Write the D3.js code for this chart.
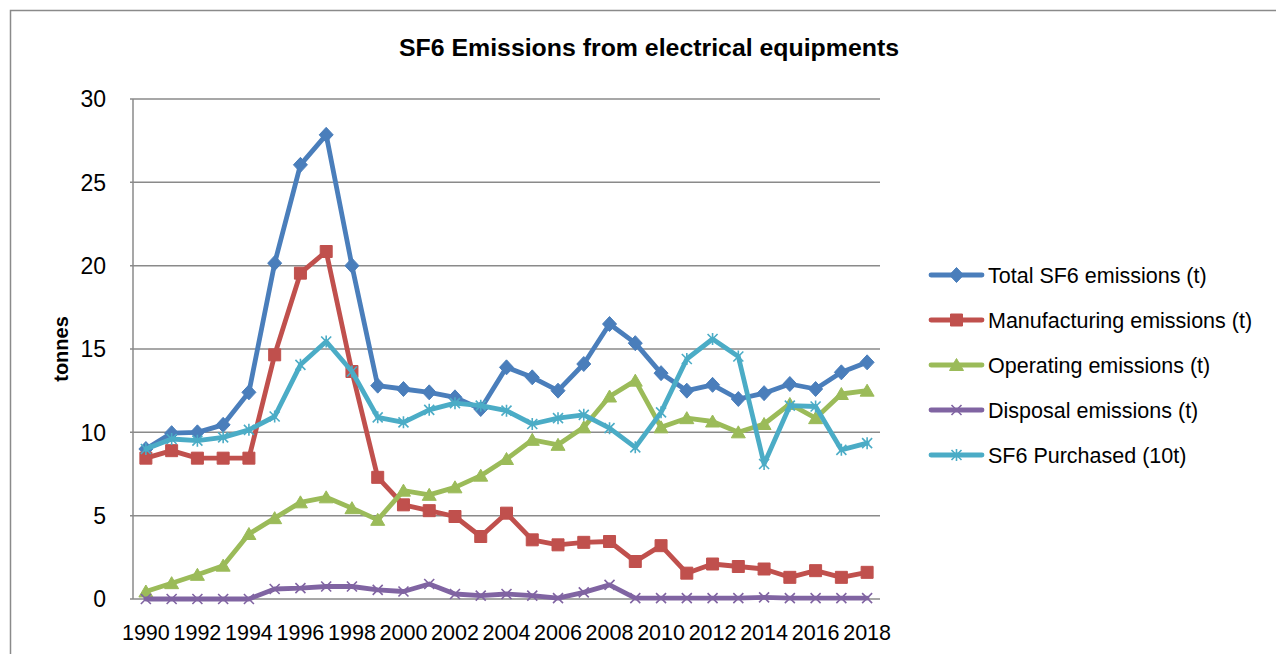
<!DOCTYPE html>
<html>
<head>
<meta charset="utf-8">
<script src="https://cdn.jsdelivr.net/npm/d3@7"></script>
<style>
  html, body { margin: 0; padding: 0; background: #fff; }
  svg { display: block; }
  text { font-family: "Liberation Sans", Arial, sans-serif; fill: #000; }
</style>
</head>
<body>
<svg id="chart" width="1276" height="654"></svg>
<script>
const years = d3.range(1990, 2019);
const tickYears = years.filter(y => (y - 1990) % 2 === 0);
const yTicks = [0, 5, 10, 15, 20, 25, 30];

const totalEmissions = [9.0, 9.95, 10.0, 10.45, 12.4, 20.15, 26.05, 27.85, 20.0, 12.8,
  12.6, 12.4, 12.1, 11.4, 13.9, 13.3, 12.5, 14.1, 16.5, 15.35,
  13.55, 12.5, 12.85, 12.0, 12.35, 12.9, 12.6, 13.6, 14.2];
const manufacturingEmissions = [8.45, 8.9, 8.45, 8.45, 8.45, 14.65, 19.55, 20.85, 13.65, 7.3,
  5.65, 5.3, 4.95, 3.75, 5.15, 3.55, 3.25, 3.4, 3.45, 2.25,
  3.2, 1.55, 2.1, 1.95, 1.8, 1.3, 1.7, 1.3, 1.6];
const operatingEmissions = [0.45, 0.95, 1.45, 2.0, 3.9, 4.85, 5.8, 6.1, 5.45, 4.75,
  6.5, 6.25, 6.7, 7.4, 8.4, 9.55, 9.25, 10.3, 12.15, 13.1,
  10.3, 10.85, 10.65, 10.0, 10.5, 11.7, 10.85, 12.3, 12.5];
const disposalEmissions = [0, 0, 0, 0, 0, 0.6, 0.65, 0.75, 0.75, 0.55,
  0.45, 0.9, 0.3, 0.2, 0.3, 0.2, 0.05, 0.4, 0.85, 0.05,
  0.05, 0.05, 0.05, 0.05, 0.1, 0.05, 0.05, 0.05, 0.05];
const sf6Purchased = [9.0, 9.6, 9.5, 9.7, 10.15, 10.95, 14.05, 15.45, 13.65, 10.9,
  10.6, 11.35, 11.75, 11.6, 11.3, 10.5, 10.85, 11.05, 10.25, 9.1,
  11.2, 14.4, 15.6, 14.55, 8.1, 11.6, 11.55, 8.95, 9.35];

const seriesNames = ["Total SF6 emissions (t)", "Manufacturing emissions (t)",
  "Operating emissions (t)", "Disposal emissions (t)", "SF6 Purchased (10t)"];
const seriesValues = [totalEmissions, manufacturingEmissions, operatingEmissions,
  disposalEmissions, sf6Purchased];
const seriesColors = ["#4A7EBB", "#C0504D", "#9BBB59", "#8064A2", "#4BACC6"];
const seriesMarkers = ["diamond", "square", "triangle", "x", "asterisk"];

const svg = d3.select("#chart");

// outer chart border
svg.append("rect")
  .attr("x", 10.5).attr("y", 10.5)
  .attr("width", 1300).attr("height", 700)
  .attr("fill", "none").attr("stroke", "#8a8a8a").attr("stroke-width", 1.5);

const plot = { left: 133, right: 880, top: 99, bottom: 599 };

const x = d3.scalePoint().domain(years).range([plot.left, plot.right]).padding(0.5);
const y = d3.scaleLinear().domain([0, 30]).range([plot.bottom, plot.top]);

// gridlines
svg.append("g")
  .selectAll("line").data(yTicks).join("line")
  .attr("x1", plot.left - 3).attr("x2", plot.right)
  .attr("y1", d => y(d)).attr("y2", d => y(d))
  .attr("stroke", "#8a8a8a").attr("stroke-width", 1.5);

// y axis line
svg.append("line")
  .attr("x1", plot.left).attr("x2", plot.left)
  .attr("y1", plot.top).attr("y2", plot.bottom)
  .attr("stroke", "#8a8a8a").attr("stroke-width", 1.5);

// y tick labels
svg.append("g")
  .selectAll("text").data(yTicks).join("text")
  .attr("x", 106).attr("y", d => y(d))
  .attr("dy", "0.36em")
  .attr("text-anchor", "end")
  .attr("font-size", 23)
  .text(d => d);

// x tick labels
svg.append("g")
  .selectAll("text").data(tickYears).join("text")
  .attr("x", d => x(d)).attr("y", 640)
  .attr("text-anchor", "middle")
  .attr("font-size", 21.5)
  .text(d => d);

// y axis title
svg.append("text")
  .attr("transform", "translate(68,349) rotate(-90)")
  .attr("text-anchor", "middle")
  .attr("font-size", 20)
  .attr("font-weight", "bold")
  .text("tonnes");

// chart title
svg.append("text")
  .attr("x", 649).attr("y", 56)
  .attr("text-anchor", "middle")
  .attr("font-size", 23)
  .attr("font-weight", "bold")
  .attr("textLength", 500)
  .attr("lengthAdjust", "spacingAndGlyphs")
  .text("SF6 Emissions from electrical equipments");

function markerPath(type) {
  switch (type) {
    case "diamond": return "M0,-7.5L7,0L0,7.5L-7,0Z";
    case "square": return "M-6,-6H6V6H-6Z";
    case "triangle": return "M0,-6.5L7,5.5H-7Z";
    case "x": return "M-5,-5L5,5M-5,5L5,-5";
    case "asterisk": return "M-5,-5L5,5M-5,5L5,-5M0,-6V6";
  }
}
function drawMarker(g, type, color) {
  const stroked = type === "x" || type === "asterisk";
  g.append("path")
    .attr("d", markerPath(type))
    .attr("fill", stroked ? "none" : color)
    .attr("stroke", color)
    .attr("stroke-width", stroked ? 1.6 : 1);
}

const line = d3.line().x((d, i) => x(years[i])).y(d => y(d));

seriesValues.forEach((vals, si) => {
  const g = svg.append("g");
  g.append("path")
    .datum(vals)
    .attr("d", line)
    .attr("fill", "none")
    .attr("stroke", seriesColors[si])
    .attr("stroke-width", 4.8)
    .attr("stroke-linejoin", "round")
    .attr("stroke-linecap", "round");
  vals.forEach((v, i) => {
    const mg = g.append("g").attr("transform", `translate(${x(years[i])},${y(v)})`);
    drawMarker(mg, seriesMarkers[si], seriesColors[si]);
  });
});

// legend
const legendRowY = [275, 320, 365, 410, 455];
seriesNames.forEach((name, si) => {
  const g = svg.append("g").attr("transform", `translate(0,${legendRowY[si]})`);
  g.append("line")
    .attr("x1", 931).attr("x2", 982).attr("y1", 0).attr("y2", 0)
    .attr("stroke", seriesColors[si]).attr("stroke-width", 4.8)
    .attr("stroke-linecap", "round");
  const mg = g.append("g").attr("transform", "translate(956.5,0)");
  drawMarker(mg, seriesMarkers[si], seriesColors[si]);
  g.append("text")
    .attr("x", 988).attr("y", 0).attr("dy", "0.36em")
    .attr("font-size", 21.5)
    .text(name);
});
</script>
</body>
</html>
